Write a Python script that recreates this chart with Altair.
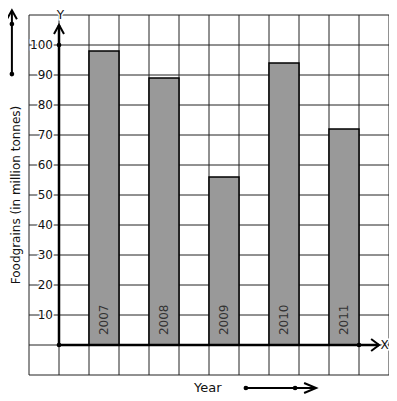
import altair as alt
import pandas as pd

# ---- data ----
years = ["2007", "2008", "2009", "2010", "2011"]
values = [98, 89, 56, 94, 72]
slots = [1, 3, 5, 7, 9]            # grid column where each bar starts
y_ticks = [10, 20, 30, 40, 50, 60, 70, 80, 90, 100]
grid_x = list(range(-1, 12))
grid_y = list(range(-10, 111, 10))

bars = pd.DataFrame({"year": years, "value": values, "x0": slots,
                     "x1": [s + 1 for s in slots], "xm": [s + 0.5 for s in slots]})
ylab = pd.DataFrame({"v": y_ticks, "lab": [str(t) for t in y_ticks]})

FONT = "DejaVu Sans"
xs = alt.Scale(domain=[-1, 11], nice=False, zero=False)
ys = alt.Scale(domain=[-10, 110], nice=False, zero=False)

def X(f="x"):
    return alt.X(f, type="quantitative", scale=xs, axis=None)

def Y(f="y"):
    return alt.Y(f, type="quantitative", scale=ys, axis=None)

# grid
gx = alt.Chart(pd.DataFrame({"x": grid_x})).mark_rule(color="#222", strokeWidth=1).encode(
    x=X(), y=alt.value(0), y2=alt.value(360))
gy = alt.Chart(pd.DataFrame({"y": grid_y})).mark_rule(color="#222", strokeWidth=1).encode(
    y=Y(), x=alt.value(0), x2=alt.value(360))

rects = alt.Chart(bars).mark_rect(fill="#999999", stroke="#000", strokeWidth=1.5).encode(
    x=X("x0"), x2="x1", y=alt.Y("value:Q", scale=ys, axis=None), y2=alt.datum(0))

bar_text = alt.Chart(bars).transform_calculate(yb="3.3").mark_text(
    angle=270, align="left", baseline="middle", font=FONT, fontSize=12, color="#333").encode(
    x=X("xm"), y=Y("yb"), text="year")

# axes
axis_pts = pd.DataFrame({"x": [0, 0], "y": [0, 0], "x2": [0, 10.67], "y2": [106.7, 0]})
axes = alt.Chart(axis_pts).mark_rule(color="#000", strokeWidth=2.5).encode(
    x=X(), y=Y(), x2="x2", y2="y2")
dots = alt.Chart(pd.DataFrame({"x": [0, 0, 10, -1.57, -1.57, 6.23, 7.87],
                               "y": [100, 0, 0, 107, 90.3, -14.33, -14.33]})).mark_circle(
    color="#000", size=22, opacity=1).encode(x=X(), y=Y())

up_arrow = alt.Chart(pd.DataFrame({"x": [0, -1.57], "y": [106.7, 111.6]})).mark_point(
    shape="M-1,1.8L0,0L1,1.8", size=100, filled=False, stroke="#000", strokeWidth=2, opacity=1).encode(
    x=X(), y=Y())
right_arrow = alt.Chart(pd.DataFrame({"x": [10.67], "y": [0]})).mark_point(
    shape="M-1.33,-1L0,0L-1.33,1", size=144, filled=False, stroke="#000", strokeWidth=2, opacity=1).encode(
    x=X(), y=Y())
year_arrow_head = alt.Chart(pd.DataFrame({"x": [8.57], "y": [-14.33]})).mark_point(
    shape="M-2.4,-1L0,0L-2.4,1", size=100, filled=False, stroke="#000", strokeWidth=2, opacity=1).encode(
    x=X(), y=Y())

legend_lines = alt.Chart(pd.DataFrame({"x": [-1.57, 6.23], "y": [90.3, -14.33],
                                       "x2": [-1.57, 8.5], "y2": [111.4, -14.33]})).mark_rule(
    color="#000", strokeWidth=2).encode(x=X(), y=Y(), x2="x2", y2="y2")

# y tick labels with white halo to break grid lines
def labels(stroke):
    kw = dict(align="right", baseline="middle", font=FONT, fontSize=12)
    if stroke:
        kw.update(stroke="white", strokeWidth=3, fill="white")
    else:
        kw.update(color="#111")
    return alt.Chart(ylab).transform_calculate(xl="-0.2").mark_text(**kw).encode(
        x=X("xl"), y=Y("v"), text="lab")

xy_labels = pd.DataFrame({"x": [0.05, 10.85], "y": [110.0, 0], "t": ["Y", "X"]})
def xy(stroke):
    kw = dict(align="center", baseline="middle", font=FONT, fontSize=12)
    if stroke:
        kw.update(stroke="white", strokeWidth=3, fill="white")
    else:
        kw.update(color="#111")
    return alt.Chart(xy_labels).mark_text(**kw).encode(x=X(), y=Y(), text="t")

year_title = alt.Chart(pd.DataFrame({"x": [4.5], "y": [-14.2], "t": ["Year"]})).mark_text(
    align="left", baseline="middle", font=FONT, fontSize=13, color="#111").encode(
    x=X(), y=Y(), text="t")
ytitle = alt.Chart(pd.DataFrame({"x": [-1.45], "y": [50], "t": ["Foodgrains (in million tonnes)"]})).mark_text(
    angle=270, align="center", baseline="middle", font=FONT, fontSize=12, color="#111").encode(
    x=X(), y=Y(), text="t")

chart = alt.layer(
    gx, gy, rects, bar_text, labels(True), labels(False), xy(True), xy(False),
    axes, up_arrow, right_arrow, legend_lines, year_arrow_head, dots, year_title, ytitle
).properties(
    width=360, height=360,
    autosize=alt.AutoSizeParams(type="none"),
    padding={"left": 21, "top": 7, "right": 0, "bottom": 20},
    background="white",
).configure_view(stroke=None)

chart.save("out.html", embed_options={"renderer": "svg", "actions": False})
